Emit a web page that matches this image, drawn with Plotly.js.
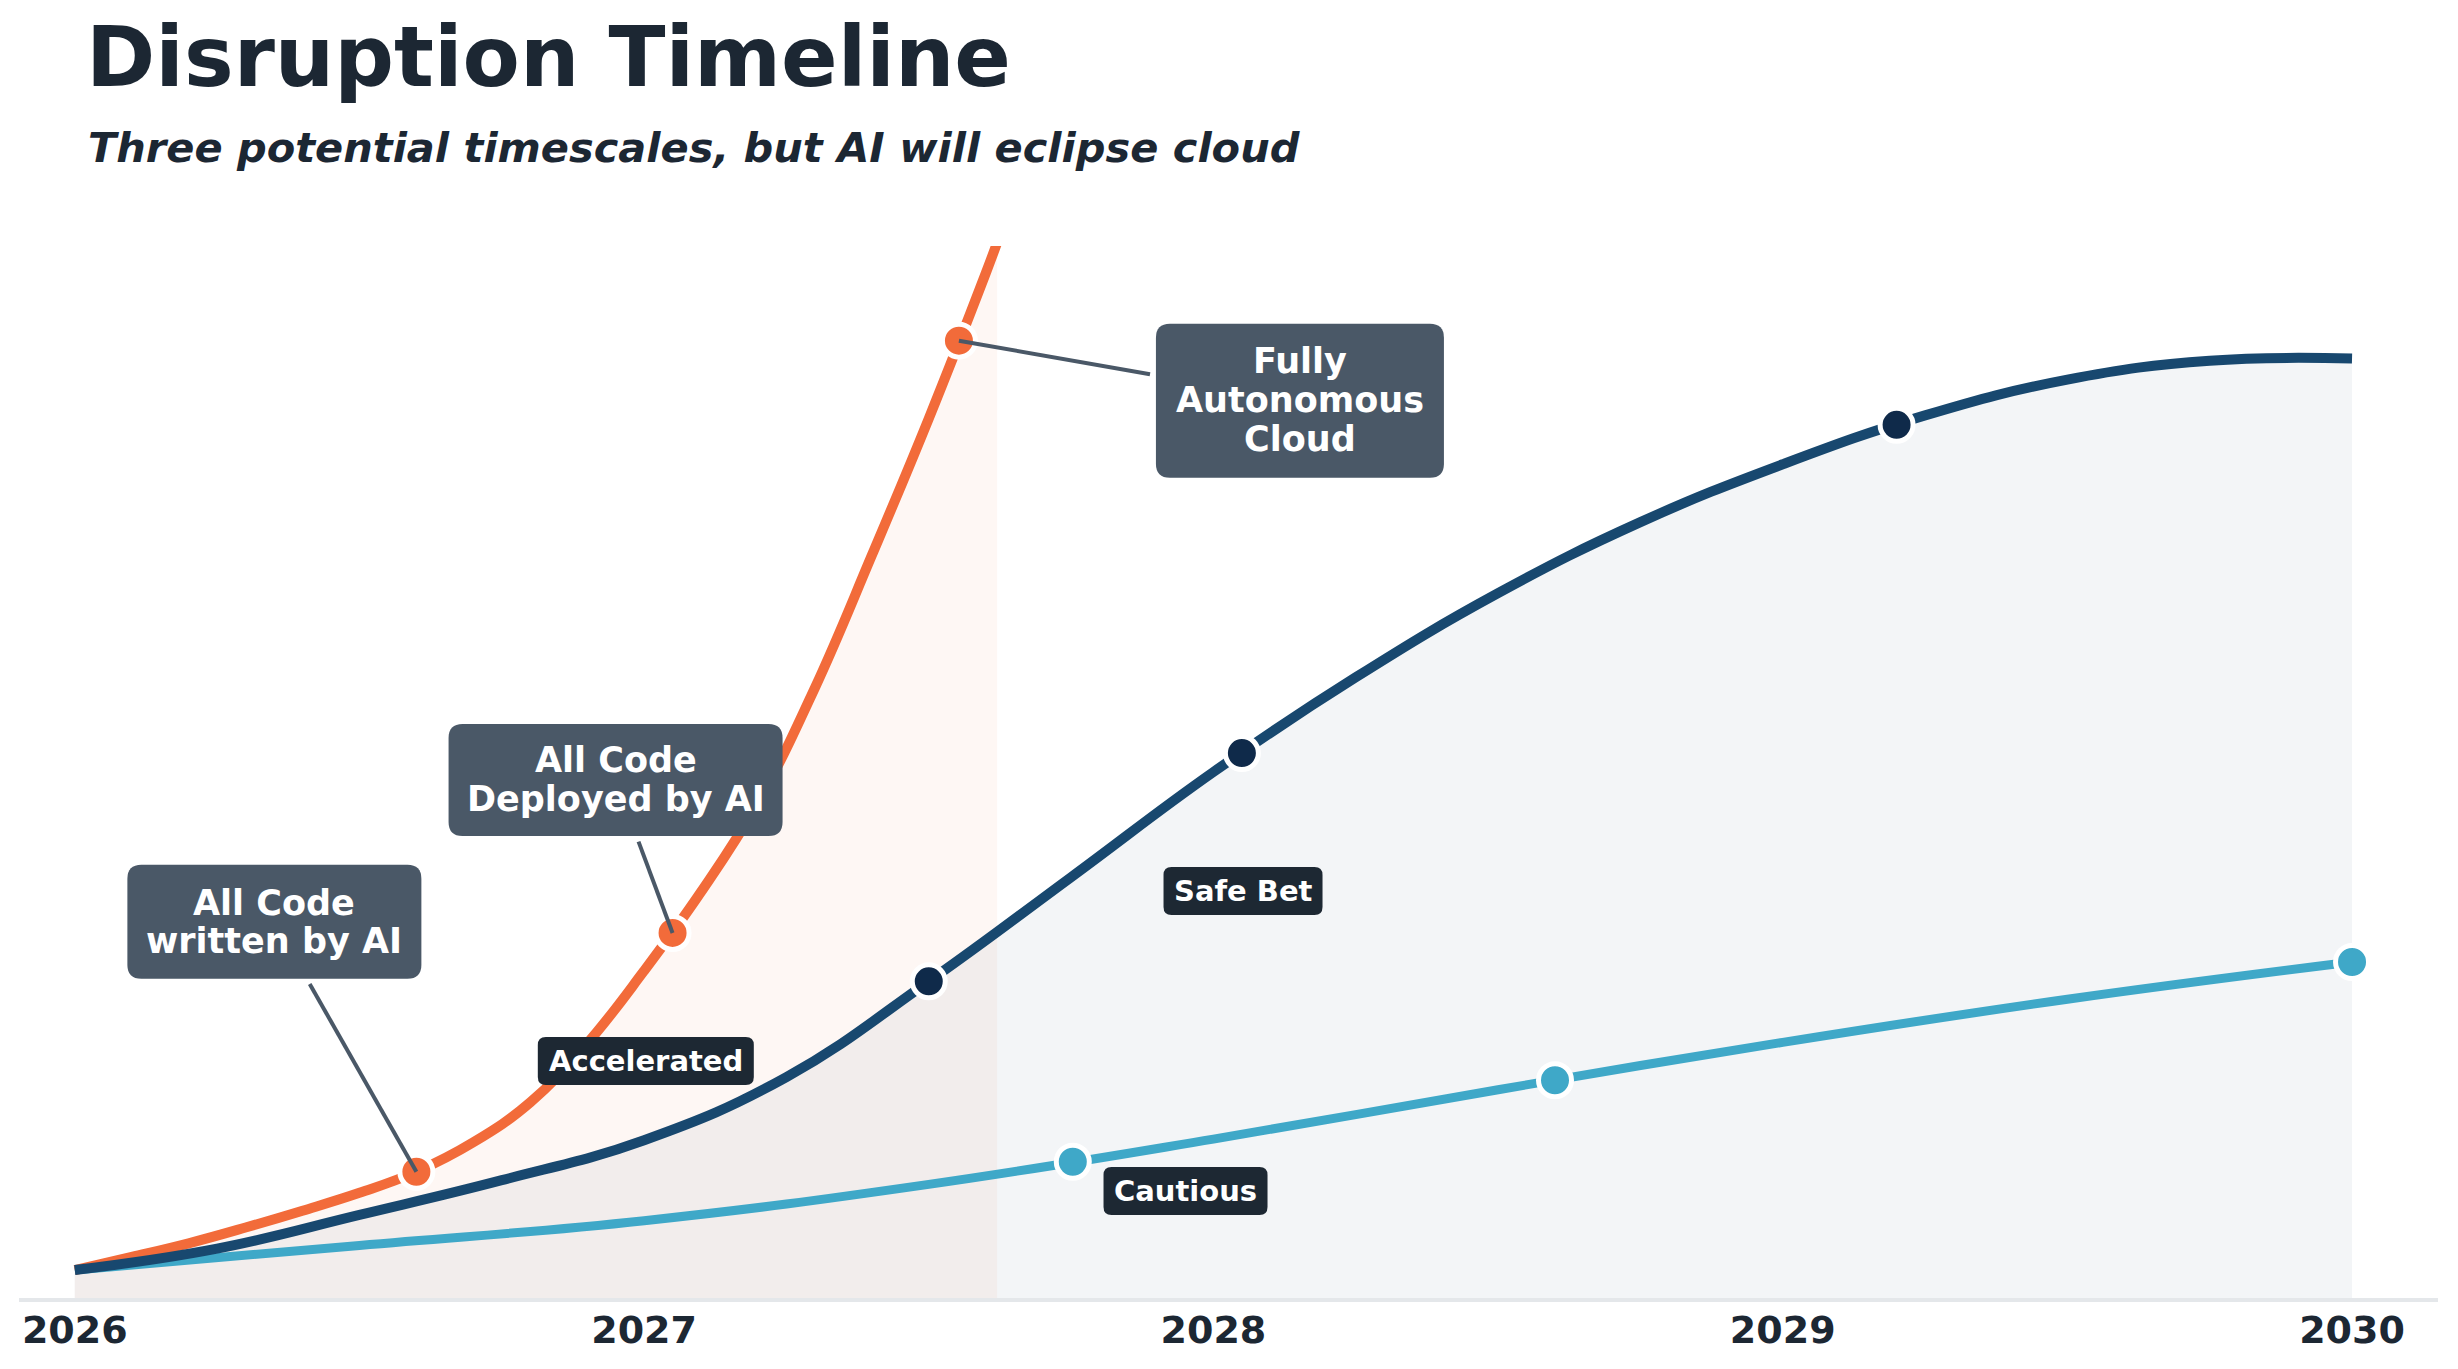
<!DOCTYPE html>
<html>
<head>
<meta charset="utf-8">
<script src="https://cdn.plot.ly/plotly-3.0.1.min.js"></script>
<style>
  html, body { margin: 0; padding: 0; background: #ffffff; }
  #chart { width: 2458px; height: 1369px; }
</style>
</head>
<body>
<div id="chart"></div>
<script>
// ---------------- DATA ----------------
const yearTicks = [2026, 2027, 2028, 2029, 2030];
const yearTickLabels = ["2026", "2027", "2028", "2029", "2030"];

// Accelerated scenario (orange)
const accelYears  = [2026.0, 2026.1, 2026.2, 2026.3, 2026.4, 2026.5, 2026.6, 2026.7, 2026.8, 2026.9, 2027.0, 2027.1, 2027.2, 2027.3, 2027.4, 2027.5, 2027.6, 2027.62];
const accelValues = [2.66, 3.9, 5.2, 6.7, 8.3, 10.0, 12.0, 14.8, 18.6, 24.2, 31.1, 38.6, 47.1, 58.0, 70.6, 83.6, 97.4, 100.3];
const accelMilestoneYears  = [2026.6, 2027.05, 2027.553];
const accelMilestoneValues = [12.0, 34.7, 91.0];

// Safe Bet scenario (navy)
const safeYears  = [2026.0, 2026.25, 2026.5, 2026.75, 2027.0, 2027.25, 2027.5, 2027.75, 2028.0, 2028.25, 2028.5, 2028.75, 2029.0, 2029.25, 2029.5, 2029.75, 2030.0];
const safeValues = [2.66, 4.7, 7.9, 11.2, 15.0, 21.0, 30.1, 40.0, 50.0, 59.0, 67.0, 73.75, 79.25, 83.9, 87.3, 89.1, 89.3];
const safeMilestoneYears  = [2027.5, 2028.05, 2029.2];
const safeMilestoneValues = [30.1, 51.8, 83.0];

// Cautious scenario (light blue)
const cautiousYears  = [2026.0, 2026.5, 2027.0, 2027.5, 2028.0, 2028.5, 2029.0, 2029.5, 2030.0];
const cautiousValues = [2.66, 5.0, 7.35, 10.8, 15.1, 19.8, 24.3, 28.4, 31.94];
const cautiousMilestoneYears  = [2027.753, 2028.6, 2030.0];
const cautiousMilestoneValues = [12.95, 20.7, 31.94];

// Milestone callouts (one entry per callout, lines of text)
const calloutLines = [["All Code", "written by AI"], ["All Code", "Deployed by AI"], ["Fully", "Autonomous", "Cloud"]];
const calloutYears = [2026.6, 2027.05, 2027.553];
const calloutValues = [12.0, 34.7, 91.0];

// Scenario labels
const scenarioNames  = ["Accelerated", "Safe Bet", "Cautious"];
const scenarioLabelYears  = [2027.003, 2028.052, 2027.951];
const scenarioLabelValues = [22.53, 38.69, 10.17];

// ---------------- STYLE / LAYOUT GEOMETRY (pixels) ----------------
const ORANGE = "#F26B3A";
const NAVY = "#18486F";
const NAVY_DARK = "#0F2A4A";
const LIGHTBLUE = "#3FA8C8";
const INK = "#1C2733";
const SLATE = "#4A5867";
const LABEL_BG = "#1D2833";
const FONT = "DejaVu Sans";
const SMOOTH = 1.2;

// callout box: centre offset from milestone (screen px, y down), size, line offsets
const calloutBoxes = [
  { cx: -142, cy: -250, w: 294, h: 114, lines: [-19, 19] },
  { cx: -57,  cy: -153, w: 334, h: 112, lines: [-20, 19] },
  { cx: 341,  cy: 60,   w: 288, h: 154, lines: [-40, -1, 38] }
];
const labelBoxes = [{ w: 216, h: 48 }, { w: 159, h: 48 }, { w: 164, h: 48 }];

function roundedRect(cx, cy, w, h, r) {
  // y-up pixel coordinates
  const x0 = cx - w / 2, x1 = cx + w / 2, y0 = cy - h / 2, y1 = cy + h / 2;
  return "M" + (x0 + r) + "," + y0 +
    " L" + (x1 - r) + "," + y0 + " Q" + x1 + "," + y0 + " " + x1 + "," + (y0 + r) +
    " L" + x1 + "," + (y1 - r) + " Q" + x1 + "," + y1 + " " + (x1 - r) + "," + y1 +
    " L" + (x0 + r) + "," + y1 + " Q" + x0 + "," + y1 + " " + x0 + "," + (y1 - r) +
    " L" + x0 + "," + (y0 + r) + " Q" + x0 + "," + y0 + " " + (x0 + r) + "," + y0 + " Z";
}

const traces = [
  { x: safeYears, y: safeValues, mode: "lines", fill: "tozeroy",
    fillcolor: "rgba(40,72,105,0.055)", line: { width: 0, shape: "spline", smoothing: SMOOTH, color: "rgba(0,0,0,0)" },
    hoverinfo: "skip", showlegend: false },
  { x: accelYears, y: accelValues, mode: "lines", fill: "tozeroy",
    fillcolor: "rgba(242,107,58,0.055)", line: { width: 0, shape: "spline", smoothing: SMOOTH, color: "rgba(0,0,0,0)" },
    hoverinfo: "skip", showlegend: false },
  { x: cautiousYears, y: cautiousValues, mode: "lines", name: "Cautious",
    line: { width: 9, shape: "spline", smoothing: SMOOTH, color: LIGHTBLUE }, showlegend: false },
  { x: accelYears, y: accelValues, mode: "lines", name: "Accelerated",
    line: { width: 10, shape: "spline", smoothing: SMOOTH, color: ORANGE }, showlegend: false },
  { x: safeYears, y: safeValues, mode: "lines", name: "Safe Bet",
    line: { width: 10, shape: "spline", smoothing: SMOOTH, color: NAVY }, showlegend: false },
  { x: accelMilestoneYears, y: accelMilestoneValues, mode: "markers", showlegend: false,
    marker: { size: 33, color: ORANGE, line: { color: "#ffffff", width: 5 } } },
  { x: safeMilestoneYears, y: safeMilestoneValues, mode: "markers", showlegend: false,
    marker: { size: 33, color: NAVY_DARK, line: { color: "#ffffff", width: 5 } } },
  { x: cautiousMilestoneYears, y: cautiousMilestoneValues, mode: "markers", showlegend: false,
    marker: { size: 33, color: LIGHTBLUE, line: { color: "#ffffff", width: 5 } } }
];

const shapes = [];
const annotations = [];

calloutLines.forEach((lines, i) => {
  const b = calloutBoxes[i];
  const vx = -b.cx, vy = -b.cy;
  const len = Math.hypot(vx, vy);
  const sEdge = Math.min((b.w / 2) / Math.abs(vx || 1e-9), (b.h / 2) / Math.abs(vy || 1e-9));
  const s = sEdge + 6 / len;
  const sx = b.cx + vx * s, sy = b.cy + vy * s;
  shapes.push({
    type: "line", xref: "x", yref: "y", xsizemode: "pixel", ysizemode: "pixel",
    xanchor: calloutYears[i], yanchor: calloutValues[i],
    x0: sx, y0: -sy, x1: 0, y1: 0,
    line: { color: SLATE, width: 4 }, layer: "above"
  });
  shapes.push({
    type: "path", xref: "x", yref: "y", xsizemode: "pixel", ysizemode: "pixel",
    xanchor: calloutYears[i], yanchor: calloutValues[i],
    path: roundedRect(b.cx, -b.cy, b.w, b.h, 14),
    fillcolor: SLATE, line: { width: 0 }, layer: "above"
  });
  lines.forEach((t, j) => {
    annotations.push({
      x: calloutYears[i], y: calloutValues[i], xref: "x", yref: "y",
      xshift: b.cx, yshift: -(b.cy + b.lines[j]),
      text: "<b>" + t + "</b>", showarrow: false, xanchor: "center", yanchor: "middle",
      font: { family: FONT, size: 35, color: "#ffffff", weight: "bold" }
    });
  });
});

scenarioNames.forEach((t, i) => {
  const b = labelBoxes[i];
  shapes.push({
    type: "path", xref: "x", yref: "y", xsizemode: "pixel", ysizemode: "pixel",
    xanchor: scenarioLabelYears[i], yanchor: scenarioLabelValues[i],
    path: roundedRect(0, 0, b.w, b.h, 8),
    fillcolor: LABEL_BG, line: { width: 0 }, layer: "above"
  });
  annotations.push({
    x: scenarioLabelYears[i], y: scenarioLabelValues[i], xref: "x", yref: "y",
    text: "<b>" + t + "</b>", showarrow: false, xanchor: "center", yanchor: "middle",
    font: { family: FONT, size: 29, color: "#ffffff", weight: "bold" }
  });
});

annotations.push({
  xref: "paper", yref: "paper", x: 0.0277, y: 1.094, xanchor: "left", yanchor: "middle",
  showarrow: false, text: "Three potential timescales, but AI will eclipse cloud",
  font: { family: FONT, size: 41.5, color: INK, weight: "bold", style: "italic" }
});

const layout = {
  width: 2458, height: 1369,
  margin: { l: 19, r: 20, t: 246, b: 71 },
  paper_bgcolor: "#ffffff", plot_bgcolor: "#ffffff",
  title: {
    text: "Disruption Timeline",
    font: { family: FONT, size: 83.5, color: INK, weight: "bold" },
    xref: "container", yref: "container", x: 86 / 2458, xanchor: "left",
    y: 1 - 57 / 1369, yanchor: "middle"
  },
  xaxis: {
    range: [2025.902, 2030.151], tickvals: yearTicks, ticktext: yearTickLabels,
    showgrid: false, zeroline: false, showline: true, linecolor: "#E4E7EA", linewidth: 4,
    ticks: "", tickfont: { family: FONT, size: 38, color: INK, weight: "bold" },
    ticklabelstandoff: -5, fixedrange: true
  },
  yaxis: {
    range: [0, 100], showgrid: false, zeroline: false, showline: false,
    showticklabels: false, ticks: "", fixedrange: true
  },
  shapes: shapes,
  annotations: annotations,
  showlegend: false
};

Plotly.newPlot("chart", traces, layout, { displayModeBar: false, staticPlot: true });
</script>
</body>
</html>
